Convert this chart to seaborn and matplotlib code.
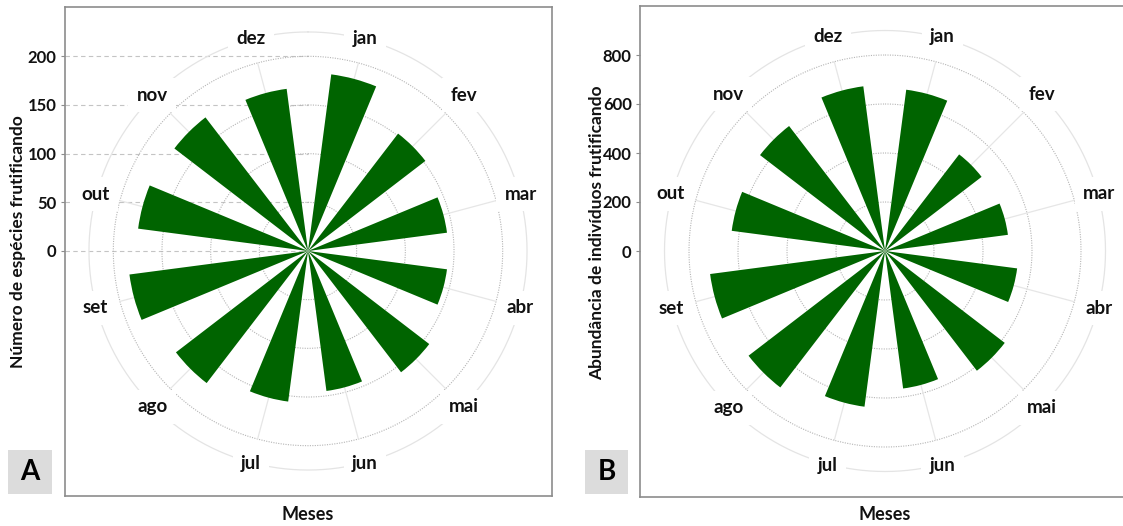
import numpy as np
import pandas as pd
import matplotlib
matplotlib.use("Agg")
import matplotlib.pyplot as plt
from matplotlib.patches import Rectangle
import seaborn as sns

# ---------------- data ----------------
months = ["jan", "fev", "mar", "abr", "mai", "jun", "jul", "ago", "set", "out", "nov", "dez"]
especies = [183, 152, 144, 144, 157, 145, 156, 171, 185, 176, 173, 168]
abundancia = [664, 497, 506, 544, 616, 566, 641, 702, 720, 631, 643, 678]
ticks_a = [0, 50, 100, 150, 200]
ticks_b = [0, 200, 400, 600, 800]
ylabel_a = "Número de espécies frutificando"
ylabel_b = "Abundância de indivíduos frutificando"
xlabel = "Meses"

sns.set_theme(style="white")
plt.rcParams['font.family'] = ['Lato', 'DejaVu Sans']

W, H = 1123, 526
fig = plt.figure(figsize=(W / 100, H / 100), dpi=100)
fig.patch.set_facecolor("white")

GREEN = "#006400"
SPINE = "#8c8c8c"
TXT = "#111111"


def px_rect(x0, y0, x1, y1):
    return [x0 / W, 1 - y1 / H, (x1 - x0) / W, (y1 - y0) / H]


def panel(box, center, scale, values, ticks, outer, label_r, ylabel, ylabel_xy,
          letter, letter_box, dashed, right_spine):
    x0, y0, x1, y1 = box
    cx, cy = center
    # background (cartesian) panel with radial axis on the left
    axc = fig.add_axes(px_rect(x0, y0, x1, y1))
    axc.set_facecolor("white")
    axc.set_xlim(x0, x1)
    axc.set_ylim((cy - y1) / scale, (cy - y0) / scale)
    axc.set_xticks([])
    axc.set_yticks(ticks)
    axc.set_yticklabels([str(t) for t in ticks], fontsize=12, fontweight="bold", color=TXT)
    axc.tick_params(axis="y", length=3, width=0.8, color=SPINE, pad=3, left=True)
    for name, sp in axc.spines.items():
        sp.set_color(SPINE)
        sp.set_linewidth(1.2)
    if not right_spine:
        axc.spines["right"].set_visible(False)
    axc.grid(False)
    if dashed:
        axc.hlines(ticks, x0, cx, colors="#c4c4c4", linestyles=(0, (4, 3)), linewidth=0.8)

    # polar chart
    R = outer * 1.07
    h = R * scale
    ax = fig.add_axes(px_rect(cx - h, cy - h, cx + h, cy + h), projection="polar")
    ax.patch.set_alpha(0)
    ax.set_theta_zero_location("N")
    ax.set_theta_direction(-1)

    theta = (np.arange(len(months)) + 0.5) * 2 * np.pi / len(months)
    df = pd.DataFrame({"theta": theta, "valor": values, "mes": months})

    th = np.linspace(0, 2 * np.pi, 721)
    for t in ticks[1:]:
        ax.plot(th, np.full_like(th, t), color="#b5b5b5", lw=0.8, ls=(0, (1, 1.2)), zorder=0)
    ax.plot(th, np.full_like(th, outer), color="#e4e4e4", lw=0.9, zorder=0)
    for a in theta:
        ax.plot([a, a], [0, ticks[-1]], color="#e6e6e6", lw=0.9, zorder=0)

    sns.barplot(data=df, x="theta", y="valor", native_scale=True, orient="x",
                width=0.5, color=GREEN, saturation=1, edgecolor="none",
                linewidth=0, ax=ax, zorder=2)

    for a, m in zip(theta, months):
        ax.text(a, label_r, m, ha="center", va="center", fontsize=13.5, fontweight="bold",
                color=TXT, zorder=3,
                bbox=dict(boxstyle="square,pad=0.45", fc="white", ec="none"))

    ax.set_ylim(0, R)
    ax.set_xticks([])
    ax.set_yticks([])
    ax.grid(False)
    ax.spines["polar"].set_visible(False)
    ax.set_xlabel("")
    ax.set_ylabel("")

    fig.text(ylabel_xy[0] / W, 1 - ylabel_xy[1] / H, ylabel, rotation=90, ha="center",
             va="center", fontsize=12.5, fontweight="bold", color=TXT)
    fig.text(cx / W, 1 - 515 / H, xlabel, ha="center", va="center", fontsize=13,
             fontweight="bold", color=TXT)
    lx0, ly0, lx1, ly1 = letter_box
    fig.add_artist(Rectangle((lx0 / W, 1 - ly1 / H), (lx1 - lx0) / W, (ly1 - ly0) / H,
                             transform=fig.transFigure, facecolor="#dcdcdc", edgecolor="none"))
    fig.text((lx0 + lx1) / 2 / W, 1 - (ly0 + ly1) / 2 / H, letter, ha="center", va="center",
             fontsize=20, fontweight="bold", color="#000000")


panel(box=(65, 7, 552, 496), center=(308, 251), scale=0.9735, values=especies,
      ticks=ticks_a, outer=225, label_r=226, ylabel=ylabel_a, ylabel_xy=(18, 242),
      letter="A", letter_box=(8, 450, 52, 494), dashed=True, right_spine=True)

panel(box=(640, 6, 1130, 497), center=(885, 251), scale=0.245, values=abundancia,
      ticks=ticks_b, outer=900, label_r=905, ylabel=ylabel_b, ylabel_xy=(597, 233),
      letter="B", letter_box=(585, 450, 628, 494), dashed=False, right_spine=False)

fig.savefig("out.png", dpi=100, facecolor="white")
